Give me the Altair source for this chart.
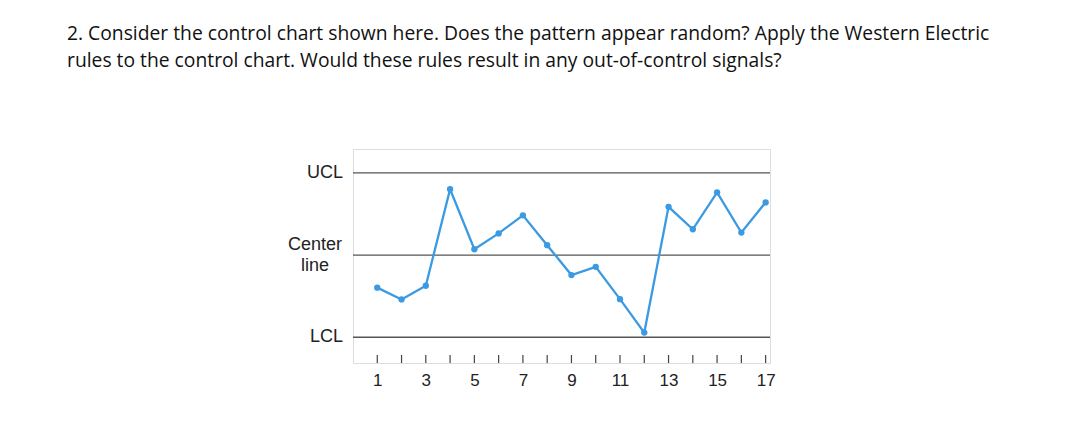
import altair as alt
import pandas as pd

# --- data ---
samples = list(range(1, 18))
values = [-1.19, -1.62, -1.12, 2.40, 0.21, 0.79, 1.45, 0.36, -0.73, -0.43,
          -1.61, -2.83, 1.76, 0.94, 2.29, 0.82, 1.92]
limit_names = ["UCL", "Center\nline", "LCL"]
limit_values = [3, 0, -3]
x_label_values = [1, 3, 5, 7, 9, 11, 13, 15, 17]
title_lines = [
    "2. Consider the control chart shown here. Does the pattern appear random? Apply the Western Electric",
    "rules to the control chart. Would these rules result in any out-of-control signals?",
]

W, H = 417, 214
BLUE = "#3b9ae1"

df = pd.DataFrame({"sample": samples, "value": values})
lim = pd.DataFrame({"name": limit_names, "value": limit_values})

xs = alt.Scale(domain=[0, 17.18], nice=False, zero=False)
ys = alt.Scale(domain=[-3.94, 3.87], nice=False, zero=False)

x_axis = alt.Axis(values=x_label_values, ticks=False, domain=False, grid=False,
                  labelFont="Liberation Sans", labelFontSize=17, labelPadding=9,
                  labelColor="#222222", title=None)

rules = alt.Chart(lim).mark_rule(color="#555555", strokeWidth=1.3).encode(
    y=alt.Y("value:Q", scale=ys, axis=None)
)

ticks = alt.Chart(df).mark_rule(color="#444444", strokeWidth=1.2).encode(
    x=alt.X("sample:Q", scale=xs, axis=x_axis),
    y=alt.value(H),
    y2=alt.value(H - 8),
)

line = alt.Chart(df).mark_line(color=BLUE, strokeWidth=2.3).encode(
    x=alt.X("sample:Q", scale=xs, axis=x_axis),
    y=alt.Y("value:Q", scale=ys, axis=None),
)

points = alt.Chart(df).mark_circle(color=BLUE, size=40, opacity=1).encode(
    x=alt.X("sample:Q", scale=xs, axis=x_axis),
    y=alt.Y("value:Q", scale=ys, axis=None),
)

side_labels = alt.Chart(lim).transform_filter("datum.value != 0").mark_text(
    align="right", baseline="middle", font="Liberation Sans", fontSize=18, color="#222222"
).encode(y=alt.Y("value:Q", scale=ys, axis=None), text="name:N", x=alt.value(-10))

center_label = alt.Chart(lim).transform_filter("datum.value == 0").mark_text(
    align="center", baseline="middle", font="Liberation Sans", fontSize=18, color="#222222",
    lineBreak="\n", lineHeight=21, dy=-10
).encode(y=alt.Y("value:Q", scale=ys, axis=None), text="name:N", x=alt.value(-38))

chart = alt.layer(rules, ticks, line, points, side_labels, center_label).properties(
    width=W,
    height=H,
    autosize=alt.AutoSizeParams(type="none"),
    padding={"left": 345, "top": 141, "right": 300, "bottom": 60},
    title=alt.TitleParams(
        text=title_lines, anchor="start", frame="group", dx=-286, offset=63,
        baseline="alphabetic", font="Open Sans", fontSize=19.3, fontWeight="normal",
        color="#111111", lineHeight=27,
    ),
).configure_view(stroke="#6e6e6e", strokeWidth=1.5).configure(background="white")

chart.save("out.html", embed_options={"renderer": "svg", "actions": False})
